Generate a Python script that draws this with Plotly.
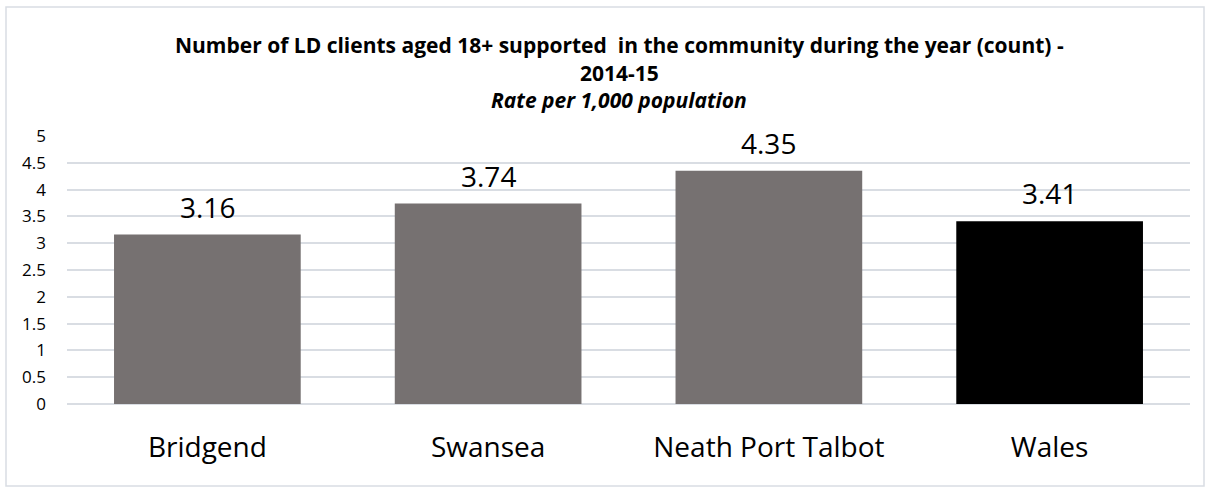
import plotly.graph_objects as go

# Chart data
categories = ["Bridgend", "Swansea", "Neath Port Talbot", "Wales"]
rates = [3.16, 3.74, 4.35, 3.41]
bar_colors = ["#767171", "#767171", "#767171", "#000000"]
y_ticks = [0, 0.5, 1, 1.5, 2, 2.5, 3, 3.5, 4, 4.5, 5]
y_tick_labels = ["0", "0.5", "1", "1.5", "2", "2.5", "3", "3.5", "4", "4.5", "5"]

W, H = 1207, 488
ML, MR, MT, MB = 67, 17, 136, 84
FONT = "'Open Sans', Lato, sans-serif"

fig = go.Figure(
    go.Bar(
        x=categories,
        y=rates,
        marker=dict(color=bar_colors, line=dict(width=0)),
        width=0.665,
        hoverinfo="x+y",
    )
)

# value labels above bars
for cat, val in zip(categories, rates):
    fig.add_annotation(
        x=cat, y=val, text=f"{val:.2f}", showarrow=False,
        yanchor="bottom", yshift=7,
        font=dict(family=FONT, size=28, color="#000000"),
    )

# titles
pw, ph = W - ML - MR, H - MT - MB
def px_to_paper_x(px):
    return (px - ML) / pw
def px_to_paper_y(py):
    return (H - MB - py) / ph

title_lines = [
    ("<b>Number of LD clients aged 18+ supported  in the community during the year (count) -</b>", 45),
    ("<b>2014-15</b>", 73),
    ("<b><i>Rate per 1,000 population</i></b>", 100),
]
for txt, ypx in title_lines:
    fig.add_annotation(
        xref="paper", yref="paper", x=px_to_paper_x(619), y=px_to_paper_y(ypx),
        text=txt, showarrow=False, xanchor="center", yanchor="middle",
        font=dict(family=FONT, size=21, color="#000000"),
    )

# outer chart frame
fig.add_shape(
    type="rect", xref="paper", yref="paper",
    x0=px_to_paper_x(6), x1=px_to_paper_x(1204),
    y0=px_to_paper_y(486), y1=px_to_paper_y(7),
    line=dict(color="#d9dde3", width=1.5), fillcolor="rgba(0,0,0,0)", layer="below",
)

fig.update_layout(
    width=W, height=H,
    margin=dict(l=ML, r=MR, t=MT, b=MB),
    paper_bgcolor="#ffffff", plot_bgcolor="#ffffff",
    showlegend=False,
    bargap=0.335,
    font=dict(family=FONT, color="#000000"),
    xaxis=dict(
        showgrid=False, showline=False, zeroline=False,
        tickfont=dict(family=FONT, size=28, color="#000000"),
        ticks="", ticklabelstandoff=24,
    ),
    yaxis=dict(
        range=[0, 5], tickvals=y_ticks, ticktext=y_tick_labels,
        showgrid=True, gridcolor="#d9dde3", gridwidth=1.5,
        zeroline=True, zerolinecolor="#d9dde3", zerolinewidth=1.5,
        showline=False, ticks="",
        tickfont=dict(family=FONT, size=17, color="#000000"),
        ticklabelstandoff=20,
    ),
)

fig.write_html("out.html")
